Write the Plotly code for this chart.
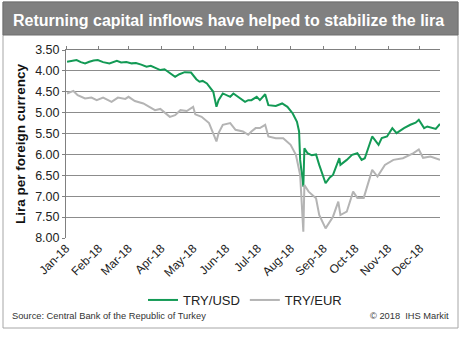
import plotly.graph_objects as go

# ---- data ----
usd_dates = ["2018-01-02", "2018-01-06", "2018-01-11", "2018-01-15", "2018-01-19", "2018-01-23",
             "2018-01-27", "2018-01-31", "2018-02-05", "2018-02-11", "2018-02-14", "2018-02-18",
             "2018-02-22", "2018-02-27", "2018-03-04", "2018-03-08", "2018-03-13", "2018-03-18",
             "2018-03-22", "2018-03-27", "2018-03-31", "2018-04-04", "2018-04-09", "2018-04-14",
             "2018-04-18", "2018-04-23", "2018-04-29", "2018-05-01", "2018-05-04", "2018-05-07",
             "2018-05-10", "2018-05-14", "2018-05-17", "2018-05-20", "2018-05-23", "2018-05-25",
             "2018-05-29", "2018-06-01", "2018-06-05", "2018-06-08", "2018-06-11", "2018-06-14",
             "2018-06-19", "2018-06-22", "2018-06-25", "2018-06-30", "2018-07-03", "2018-07-08",
             "2018-07-11", "2018-07-18", "2018-07-24", "2018-07-29", "2018-08-03", "2018-08-07",
             "2018-08-09", "2018-08-10", "2018-08-13", "2018-08-14", "2018-08-17", "2018-08-21",
             "2018-08-25", "2018-08-28", "2018-09-03", "2018-09-07", "2018-09-10", "2018-09-16",
             "2018-09-17", "2018-09-23", "2018-09-28", "2018-10-03", "2018-10-07", "2018-10-10",
             "2018-10-17", "2018-10-23", "2018-10-26", "2018-10-31", "2018-11-05", "2018-11-09",
             "2018-11-13", "2018-11-16", "2018-11-22", "2018-11-27", "2018-11-30", "2018-12-05",
             "2018-12-08", "2018-12-12", "2018-12-16", "2018-12-20"]
usd_values = [3.78, 3.76, 3.74, 3.79, 3.82, 3.78,
              3.75, 3.74, 3.79, 3.82, 3.79, 3.76,
              3.80, 3.79, 3.82, 3.81, 3.85, 3.90,
              3.88, 3.94, 3.98, 3.96, 4.06, 4.14,
              4.08, 4.03, 4.04, 4.10, 4.20, 4.26,
              4.24, 4.30, 4.40, 4.50, 4.86, 4.70,
              4.54, 4.58, 4.62, 4.54, 4.60, 4.66,
              4.74, 4.70, 4.70, 4.62, 4.70, 4.56,
              4.82, 4.84, 4.78, 4.86, 5.02, 5.22,
              5.45, 6.13, 6.77, 5.85, 5.97, 6.02,
              6.00, 6.25, 6.69, 6.55, 6.49, 6.09,
              6.25, 6.13, 6.01, 5.97, 6.13, 6.09,
              5.57, 5.77, 5.61, 5.57, 5.37, 5.49,
              5.42, 5.37, 5.29, 5.24, 5.17, 5.37,
              5.33, 5.36, 5.39, 5.27]

eur_dates = ["2018-01-02", "2018-01-08", "2018-01-12", "2018-01-19", "2018-01-25", "2018-01-30",
             "2018-02-05", "2018-02-13", "2018-02-19", "2018-02-26", "2018-03-01", "2018-03-07",
             "2018-03-15", "2018-03-21", "2018-03-26", "2018-03-31", "2018-04-09", "2018-04-14",
             "2018-04-19", "2018-04-25", "2018-05-01", "2018-05-03", "2018-05-09", "2018-05-16",
             "2018-05-23", "2018-05-25", "2018-05-29", "2018-06-05", "2018-06-10", "2018-06-17",
             "2018-06-22", "2018-06-25", "2018-06-29", "2018-07-03", "2018-07-08", "2018-07-11",
             "2018-07-18", "2018-07-25", "2018-08-01", "2018-08-06", "2018-08-10", "2018-08-13",
             "2018-08-14", "2018-08-18", "2018-08-25", "2018-08-28", "2018-09-03", "2018-09-10",
             "2018-09-15", "2018-09-17", "2018-09-23", "2018-09-29", "2018-10-03", "2018-10-09",
             "2018-10-17", "2018-10-22", "2018-10-29", "2018-11-06", "2018-11-15", "2018-11-25",
             "2018-11-30", "2018-12-04", "2018-12-11", "2018-12-20"]
eur_values = [4.54, 4.48, 4.58, 4.66, 4.64, 4.70,
              4.64, 4.74, 4.64, 4.67, 4.62, 4.72,
              4.78, 4.86, 4.94, 4.91, 5.10, 5.06,
              4.94, 4.96, 4.86, 5.04, 5.10, 5.25,
              5.69, 5.49, 5.29, 5.25, 5.41, 5.45,
              5.53, 5.45, 5.37, 5.37, 5.29, 5.57,
              5.61, 5.61, 5.77, 6.01, 6.49, 7.85,
              6.73, 6.89, 7.05, 7.45, 7.77, 7.49,
              7.13, 7.45, 7.37, 6.89, 7.04, 7.04,
              6.37, 6.53, 6.25, 6.13, 6.09, 5.97,
              5.88, 6.08, 6.05, 6.13]

month_ticks = ["2018-01-01", "2018-02-01", "2018-03-01", "2018-04-01", "2018-05-01", "2018-06-01",
               "2018-07-01", "2018-08-01", "2018-09-01", "2018-10-01", "2018-11-01", "2018-12-01"]
month_labels = ["Jan-18", "Feb-18", "Mar-18", "Apr-18", "May-18", "Jun-18",
                "Jul-18", "Aug-18", "Sep-18", "Oct-18", "Nov-18", "Dec-18"]
y_ticks = [3.5, 4.0, 4.5, 5.0, 5.5, 6.0, 6.5, 7.0, 7.5, 8.0]

title_text = "Returning capital inflows have helped to stabilize the lira"
source_text = "Source: Central Bank of the Republic of Turkey"
copyright_text = "© 2018  IHS Markit"

GREEN = "#139a55"
GREY = "#b4b4b4"
FONT = "Liberation Sans, Arial, sans-serif"

W, H = 464, 344
L, R, T, B = 66, 24, 50, 106
pw, ph = W - L - R, H - T - B


def px(x):
    return (x - L) / pw


def py(y):
    return (H - B - y) / ph


fig = go.Figure()
fig.add_trace(go.Scatter(x=usd_dates, y=usd_values, mode="lines", name="TRY/USD",
                         line=dict(color=GREEN, width=2)))
fig.add_trace(go.Scatter(x=eur_dates, y=eur_values, mode="lines", name="TRY/EUR",
                         line=dict(color=GREY, width=2)))
# invisible trace to carry the top tick marks
fig.add_trace(go.Scatter(x=[month_ticks[0]], y=[usd_values[0]], xaxis="x2", mode="lines",
                         showlegend=False, hoverinfo="skip", line=dict(width=0)))

fig.update_layout(
    width=W, height=H,
    margin=dict(l=L, r=R, t=T, b=B),
    paper_bgcolor="white", plot_bgcolor="white",
    font=dict(family=FONT, color="#222222"),
    xaxis=dict(type="date", range=["2018-01-01", "2018-12-20"],
               tickvals=month_ticks, ticktext=month_labels, tickangle=-45,
               tickfont=dict(size=12, color="#222222"),
               showgrid=False, showline=False, ticks="", zeroline=False),
    xaxis2=dict(type="date", range=["2018-01-01", "2018-12-20"], overlaying="x",
                side="top", tickvals=month_ticks, showticklabels=False,
                ticks="outside", ticklen=3, tickcolor="#808080",
                showline=True, linecolor="#808080", linewidth=1, showgrid=False),
    yaxis=dict(range=[8.0, 3.5], tickvals=y_ticks, tickformat=".2f",
               tickfont=dict(size=12.5, color="#222222"),
               showgrid=True, gridcolor="#8c8c8c", gridwidth=1,
               showline=True, linecolor="#808080", linewidth=1,
               ticks="outside", ticklen=3, tickcolor="#808080", zeroline=False,
               title=dict(text="<b>Lira per foreign currency</b>",
                          font=dict(size=13.5, color="#111111"), standoff=6)),
    legend=dict(orientation="h", x=px(245), xanchor="center", y=py(300), yanchor="middle",
                font=dict(size=13, color="#222222"), bgcolor="rgba(0,0,0,0)",
                itemwidth=30, tracegroupgap=0),
    showlegend=True,
    shapes=[
        dict(type="rect", xref="paper", yref="paper", x0=px(3), x1=px(458), y0=py(2), y1=py(328),
             line=dict(color="#a6a6a6", width=1), fillcolor="rgba(0,0,0,0)", layer="below"),
        dict(type="rect", xref="paper", yref="paper", x0=px(3), x1=px(458), y0=py(35), y1=py(2),
             line=dict(color="#6e6e6e", width=1), fillcolor="#808080", layer="below"),
    ],
    annotations=[
        dict(text="<b>" + title_text + "</b>", xref="paper", yref="paper",
             x=px(11), y=py(20), xanchor="left", yanchor="middle", showarrow=False,
             font=dict(size=16, color="white", family=FONT)),
        dict(text=source_text, xref="paper", yref="paper", x=px(10), y=py(316),
             xanchor="left", yanchor="middle", showarrow=False,
             font=dict(size=9.3, color="#333333", family=FONT)),
        dict(text=copyright_text, xref="paper", yref="paper", x=px(451), y=py(316),
             xanchor="right", yanchor="middle", showarrow=False,
             font=dict(size=9.3, color="#333333", family=FONT)),
    ],
)

fig.write_html("out.html")
